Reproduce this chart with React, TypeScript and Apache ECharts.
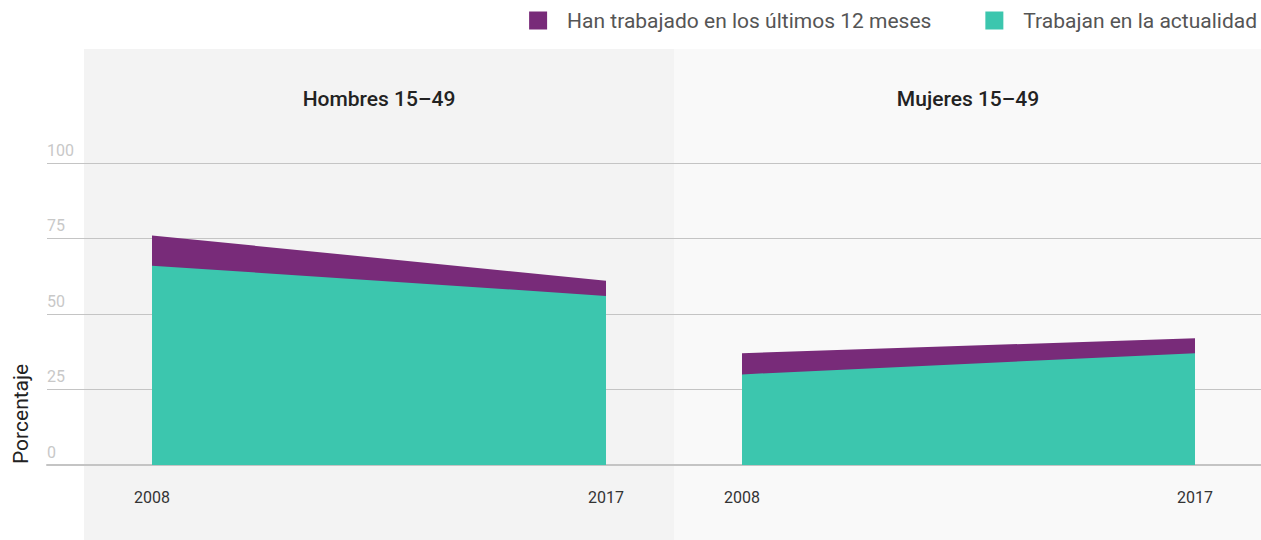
import React, { useEffect, useRef } from "react";
import * as echarts from "echarts";

const years = ["2008", "2017"];
const panels = ["Hombres 15–49", "Mujeres 15–49"];
const seriesNames = ["Han trabajado en los últimos 12 meses", "Trabajan en la actualidad"];
const hombresUltimos12 = [76, 61];
const hombresActual = [66, 56];
const mujeresUltimos12 = [37, 42];
const mujeresActual = [30, 37];
const yTicks = [0, 25, 50, 75, 100];

const PURPLE = "#782B79";
const TEAL = "#3CC6AE";
const FONT = "Roboto";

export default function App() {
  const ref = useRef<HTMLDivElement>(null);
  useEffect(() => {
    if (!ref.current) return;
    const chart = echarts.init(ref.current, null, { renderer: "svg" });
    const top = 163;
    const height = 302;
    const mkArea = (name: string, data: number[], color: string, idx: number) => ({
      name,
      type: "line",
      xAxisIndex: idx,
      yAxisIndex: idx,
      data,
      symbol: "none",
      color,
      itemStyle: { color },
      lineStyle: { width: 0, color },
      areaStyle: { color, opacity: 1 },
    });
    chart.setOption({
      animation: false,
      textStyle: { fontFamily: FONT },
      legend: {
        right: -1,
        top: 5,
        itemWidth: 18,
        itemHeight: 18,
        itemGap: 54,
        icon: "rect",
        data: seriesNames,
        textStyle: { fontSize: 21, fontWeight: 400, color: "#555", fontFamily: FONT, padding: [0, 0, 0, 15] },
      },
      graphic: [
        { type: "rect", z: -10, shape: { x: 84, y: 49, width: 590, height: 491 }, style: { fill: "#f3f3f3" }, silent: true },
        { type: "rect", z: -10, shape: { x: 674, y: 49, width: 587, height: 491 }, style: { fill: "#f9f9f9" }, silent: true },
        { type: "text", x: 379, y: 99, style: { text: panels[0], fontSize: 21, fontWeight: 500, fill: "#222", fontFamily: FONT, align: "center", verticalAlign: "middle" } },
        { type: "text", x: 968, y: 99, style: { text: panels[1], fontSize: 21, fontWeight: 500, fill: "#222", fontFamily: FONT, align: "center", verticalAlign: "middle" } },
        { type: "text", x: 21, y: 464, rotation: Math.PI / 2, style: { text: "Porcentaje", fontSize: 21, fill: "#222", fontFamily: FONT, align: "left", verticalAlign: "middle" } },
      ],
      grid: [
        { left: 152, width: 454, top, height },
        { left: 742, width: 453, top, height },
        { left: 47, right: 0, top, height },
      ],
      xAxis: [
        { type: "category", gridIndex: 0, data: years, boundaryGap: false, axisLine: { show: false }, axisTick: { show: false }, axisLabel: { margin: 24, fontSize: 16, color: "#333", fontFamily: FONT } },
        { type: "category", gridIndex: 1, data: years, boundaryGap: false, axisLine: { show: false }, axisTick: { show: false }, axisLabel: { margin: 24, fontSize: 16, color: "#333", fontFamily: FONT } },
        { type: "value", gridIndex: 2, min: 0, max: 1, axisLine: { show: true, lineStyle: { color: "#c4c4c4", width: 2 } }, axisTick: { show: false }, axisLabel: { show: false }, splitLine: { show: false }, z: 0 },
      ],
      yAxis: [
        { type: "value", gridIndex: 0, min: 0, max: 100, interval: 25, show: false },
        { type: "value", gridIndex: 1, min: 0, max: 100, interval: 25, show: false },
        {
          type: "value",
          gridIndex: 2,
          min: yTicks[0],
          max: yTicks[yTicks.length - 1],
          interval: 25,
          axisLine: { show: false },
          axisTick: { show: false },
          splitLine: { show: true, lineStyle: { color: "#c4c4c4", width: 1 } },
          axisLabel: { inside: true, margin: 0, verticalAlign: "bottom", padding: [0, 0, 5, 0], fontSize: 16, color: "#c8c8c8", fontFamily: FONT },
          z: 0,
        },
      ],
      series: [
        mkArea(seriesNames[0], hombresUltimos12, PURPLE, 0),
        mkArea(seriesNames[1], hombresActual, TEAL, 0),
        mkArea(seriesNames[0], mujeresUltimos12, PURPLE, 1),
        mkArea(seriesNames[1], mujeresActual, TEAL, 1),
      ],
    });
    return () => chart.dispose();
  }, []);
  return <div ref={ref} style={{ position: "absolute", left: 0, top: 0, width: 1261, height: 540 }} />;
}
